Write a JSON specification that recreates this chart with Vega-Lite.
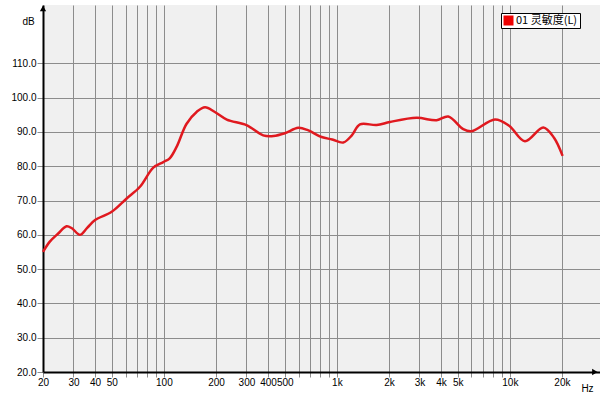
{
  "$schema": "https://vega.github.io/schema/vega-lite/v6.json",
  "autosize": {"type": "none"},
  "padding": {"left": 43, "top": 5, "right": 0, "bottom": 23},
  "width": 557,
  "height": 367,
  "background": "white",
  "config": {
    "view": {"stroke": null, "fill": "#f0f0f0"},
    "font": "Liberation Sans"
  },
  "layer": [
    {
      "data": {
        "values": [
          {"freq": 20, "db": 55.0, "series": "01 灵敏度(L)"},
          {"freq": 21.9, "db": 58.0, "series": "01 灵敏度(L)"},
          {"freq": 24.4, "db": 60.3, "series": "01 灵敏度(L)"},
          {"freq": 27.4, "db": 62.5, "series": "01 灵敏度(L)"},
          {"freq": 29.4, "db": 61.9, "series": "01 灵敏度(L)"},
          {"freq": 32.7, "db": 60.0, "series": "01 灵敏度(L)"},
          {"freq": 36, "db": 62.0, "series": "01 灵敏度(L)"},
          {"freq": 40.0, "db": 64.3, "series": "01 灵敏度(L)"},
          {"freq": 49.9, "db": 66.7, "series": "01 灵敏度(L)"},
          {"freq": 60.9, "db": 70.6, "series": "01 灵敏度(L)"},
          {"freq": 72.7, "db": 74.0, "series": "01 灵敏度(L)"},
          {"freq": 86.8, "db": 79.6, "series": "01 灵敏度(L)"},
          {"freq": 99.2, "db": 81.2, "series": "01 灵敏度(L)"},
          {"freq": 108, "db": 82.3, "series": "01 灵敏度(L)"},
          {"freq": 118.6, "db": 85.7, "series": "01 灵敏度(L)"},
          {"freq": 135, "db": 92.3, "series": "01 灵敏度(L)"},
          {"freq": 155, "db": 95.9, "series": "01 灵敏度(L)"},
          {"freq": 173, "db": 97.2, "series": "01 灵敏度(L)"},
          {"freq": 197, "db": 95.8, "series": "01 灵敏度(L)"},
          {"freq": 231, "db": 93.6, "series": "01 灵敏度(L)"},
          {"freq": 300, "db": 92.0, "series": "01 灵敏度(L)"},
          {"freq": 375, "db": 89.0, "series": "01 灵敏度(L)"},
          {"freq": 430, "db": 88.8, "series": "01 灵敏度(L)"},
          {"freq": 500, "db": 89.6, "series": "01 灵敏度(L)"},
          {"freq": 598, "db": 91.2, "series": "01 灵敏度(L)"},
          {"freq": 680, "db": 90.5, "series": "01 灵敏度(L)"},
          {"freq": 816, "db": 88.5, "series": "01 灵敏度(L)"},
          {"freq": 940, "db": 87.8, "series": "01 灵敏度(L)"},
          {"freq": 1088, "db": 86.9, "series": "01 灵敏度(L)"},
          {"freq": 1220, "db": 89.0, "series": "01 灵敏度(L)"},
          {"freq": 1360, "db": 92.2, "series": "01 灵敏度(L)"},
          {"freq": 1698, "db": 92.0, "series": "01 灵敏度(L)"},
          {"freq": 2027, "db": 92.9, "series": "01 灵敏度(L)"},
          {"freq": 2893, "db": 94.1, "series": "01 灵敏度(L)"},
          {"freq": 3774, "db": 93.4, "series": "01 灵敏度(L)"},
          {"freq": 4404, "db": 94.5, "series": "01 灵敏度(L)"},
          {"freq": 5377, "db": 90.8, "series": "01 灵敏度(L)"},
          {"freq": 6012, "db": 90.2, "series": "01 灵敏度(L)"},
          {"freq": 8200, "db": 93.6, "series": "01 灵敏度(L)"},
          {"freq": 9900, "db": 91.8, "series": "01 灵敏度(L)"},
          {"freq": 12220, "db": 87.3, "series": "01 灵敏度(L)"},
          {"freq": 15600, "db": 91.3, "series": "01 灵敏度(L)"},
          {"freq": 18000, "db": 88.3, "series": "01 灵敏度(L)"},
          {"freq": 20180, "db": 83.0, "series": "01 灵敏度(L)"}
        ]
      },
      "mark": {"type": "line", "interpolate": "catmull-rom", "strokeWidth": 2.5},
      "encoding": {
        "x": {
          "field": "freq",
          "type": "quantitative",
          "scale": {"type": "log", "domain": [20, 33200], "nice": false},
          "axis": {
            "values": [20, 30, 40, 50, 60, 70, 80, 90, 100, 200, 300, 400, 500, 600, 700, 800, 900, 1000, 2000, 3000, 4000, 5000, 6000, 7000, 8000, 9000, 10000, 20000],
            "labelExpr": "indexof([20,30,40,50,100,200,300,400,500],datum.value)>=0 ? datum.value+'' : (indexof([1000,2000,3000,4000,5000,10000,20000],datum.value)>=0 ? (datum.value/1000)+'k' : '')",
            "grid": true,
            "gridColor": "#8c8c8c",
            "gridOpacity": 1,
            "tickColor": "#8c8c8c",
            "tickSize": 5,
            "domainColor": "black",
            "domainWidth": 2,
            "labelFont": "Liberation Sans",
            "labelFontSize": 10,
            "labelColor": "black",
            "labelPadding": 0,
            "labelFlush": false,
            "labelOverlap": false,
            "title": "Hz",
            "titleFont": "Liberation Sans",
            "titleFontSize": 10,
            "titleFontWeight": "normal",
            "titleAngle": 0,
            "titleX": 544,
            "titleY": 16,
            "titleAlign": "center",
            "titleBaseline": "middle"
          }
        },
        "y": {
          "field": "db",
          "type": "quantitative",
          "scale": {"domain": [20, 127], "nice": false, "zero": false},
          "axis": {
            "values": [20, 30, 40, 50, 60, 70, 80, 90, 100, 110],
            "format": ".1f",
            "grid": true,
            "gridColor": "#8c8c8c",
            "gridOpacity": 1,
            "tickColor": "#8c8c8c",
            "tickSize": 6,
            "domainColor": "black",
            "domainWidth": 2,
            "labelFont": "Liberation Sans",
            "labelFontSize": 10,
            "labelColor": "black",
            "labelPadding": 1,
            "title": "dB",
            "titleFont": "Liberation Sans",
            "titleFontSize": 10,
            "titleFontWeight": "normal",
            "titleAngle": 0,
            "titleX": -15,
            "titleY": 16,
            "titleAlign": "center",
            "titleBaseline": "middle"
          }
        },
        "color": {
          "field": "series",
          "type": "nominal",
          "scale": {"range": ["#e0191f"]},
          "legend": {
            "title": null,
            "orient": "none",
            "legendX": 458,
            "legendY": 8,
            "fillColor": "white",
            "strokeColor": "black",
            "padding": 2,
            "symbolType": "square",
            "symbolSize": 100,
            "symbolFillColor": "#ee0000",
            "symbolStrokeWidth": 0,
            "symbolOpacity": 1,
            "labelFont": "Noto Sans CJK SC",
            "labelFontSize": 11,
            "labelColor": "black",
            "labelOffset": 2,
            "cornerRadius": 0
          }
        }
      }
    },
    {
      "data": {"values": [{"freq": 31000, "db": 20, "dir": "right"}, {"freq": 20, "db": 126, "dir": "up"}]},
      "mark": {"type": "point", "filled": true, "color": "black", "opacity": 1, "size": 40},
      "encoding": {
        "x": {"field": "freq", "type": "quantitative"},
        "y": {"field": "db", "type": "quantitative"},
        "shape": {
          "field": "dir",
          "type": "nominal",
          "scale": {"domain": ["right", "up"], "range": ["triangle-right", "triangle-up"]},
          "legend": null
        }
      }
    }
  ]
}
